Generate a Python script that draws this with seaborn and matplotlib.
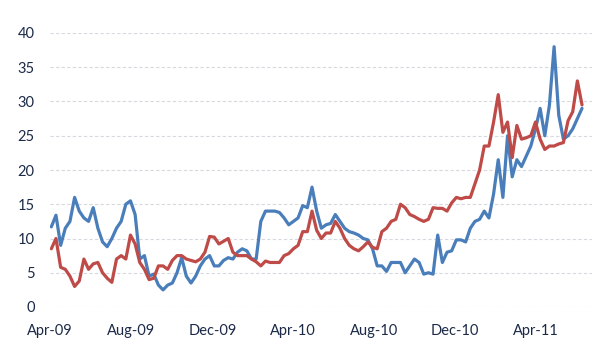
import pandas as pd
import numpy as np
import matplotlib
matplotlib.use("Agg")
import matplotlib.pyplot as plt
import matplotlib.dates as mdates
import seaborn as sns

# weekly observations, Fridays from 3 Apr 2009
start_date = "2009-04-03"
n_weeks = 115

blue_values = [
    11.7, 13.4, 9.0, 11.5, 12.5, 16.0, 14.0, 13.0, 12.5, 14.5,
    11.5, 9.5, 8.8, 10.0, 11.5, 12.5, 15.0, 15.5, 13.5, 7.0,
    7.5, 4.5, 4.8, 3.2, 2.5, 3.2, 3.5, 5.0, 7.2, 4.5,
    3.5, 4.5, 6.0, 7.0, 7.5, 6.0, 6.0, 6.8, 7.2, 7.0,
    8.0, 8.5, 8.2, 7.0, 7.0, 12.5, 14.0, 14.0, 14.0, 13.8,
    13.0, 12.0, 12.5, 13.0, 14.8, 14.5, 17.5, 14.0, 11.5, 12.0,
    12.2, 13.5, 12.5, 11.5, 11.0, 10.8, 10.5, 10.0, 9.8, 8.5,
    6.0, 6.0, 5.2, 6.5, 6.5, 6.5, 5.0, 6.0, 7.0, 6.5,
    4.8, 5.0, 4.8, 10.5, 6.5, 8.0, 8.2, 9.8, 9.8, 9.5,
    11.5, 12.5, 12.8, 14.0, 13.0, 16.5, 21.5, 16.0, 25.0, 19.0,
    21.5, 20.5, 22.0, 23.5, 26.0, 29.0, 25.0, 29.5, 38.0, 28.0,
    24.5, 25.0, 26.0, 27.5, 29.0,
]

red_values = [
    8.5, 10.0, 5.8, 5.5, 4.5, 3.0, 3.8, 7.0, 5.5, 6.3,
    6.5, 5.0, 4.2, 3.6, 7.0, 7.5, 7.0, 10.5, 9.2, 6.5,
    5.5, 4.0, 4.2, 6.0, 6.0, 5.5, 6.8, 7.5, 7.5, 7.0,
    6.8, 6.6, 7.0, 8.0, 10.3, 10.2, 9.2, 9.6, 10.0, 8.0,
    7.5, 7.5, 7.5, 7.0, 6.6, 6.0, 6.7, 6.5, 6.5, 6.5,
    7.5, 7.8, 8.5, 9.0, 11.0, 11.0, 14.0, 11.2, 10.0, 10.8,
    10.8, 12.5, 11.5, 10.0, 9.0, 8.5, 8.2, 8.8, 9.5, 8.7,
    8.5, 11.0, 11.5, 12.5, 12.8, 15.0, 14.5, 13.5, 13.2, 12.8,
    12.5, 12.8, 14.5, 14.4, 14.4, 14.0, 15.2, 16.0, 15.8, 16.0,
    16.0, 18.0, 20.0, 23.5, 23.5, 27.0, 31.0, 25.5, 27.0, 21.8,
    26.5, 24.5, 24.7, 25.0, 27.0, 24.5, 23.0, 23.5, 23.5, 23.8,
    24.0, 27.2, 28.5, 33.0, 29.5,
]

series_names = ["Blue", "Red"]
series_colors = ["#4a7ebb", "#be4b48"]
y_ticks = [0, 5, 10, 15, 20, 25, 30, 35, 40]
x_tick_dates = ["2009-04-01", "2009-08-01", "2009-12-01", "2010-04-01",
                "2010-08-01", "2010-12-01", "2011-04-01"]

dates = pd.date_range(start_date, periods=n_weeks, freq="7D")
df = pd.concat([
    pd.DataFrame({"date": dates, "value": blue_values, "series": series_names[0]}),
    pd.DataFrame({"date": dates, "value": red_values, "series": series_names[1]}),
])

sns.set_style("white")
plt.rcParams["font.family"] = ["Lato", "DejaVu Sans"]

fig = plt.figure(figsize=(6.02, 3.62), dpi=100)
ax = fig.add_axes([50 / 602, 55 / 362, 542 / 602, 274 / 362])

sns.lineplot(data=df, x="date", y="value", hue="series",
             palette=dict(zip(series_names, series_colors)),
             linewidth=2.3, legend=False, ax=ax)

ax.set_ylim(0, 40)
ax.set_yticks(y_ticks)
ax.set_xlim(pd.Timestamp("2009-04-01"), pd.Timestamp("2011-06-25"))
ax.set_xticks(pd.to_datetime(x_tick_dates))
ax.xaxis.set_major_formatter(mdates.DateFormatter("%b-%y"))

ax.yaxis.grid(True, color="#d6d9df", linestyle=(0, (3, 2)), linewidth=0.8)
ax.xaxis.grid(False)
ax.set_axisbelow(True)
for s in ax.spines.values():
    s.set_visible(False)

ax.tick_params(axis="both", length=0, labelsize=10.5, labelcolor="#1c2a48")
ax.tick_params(axis="x", pad=12)
ax.tick_params(axis="y", pad=11)
ax.set_xlabel("")
ax.set_ylabel("")

fig.savefig("out.png", dpi=100)
